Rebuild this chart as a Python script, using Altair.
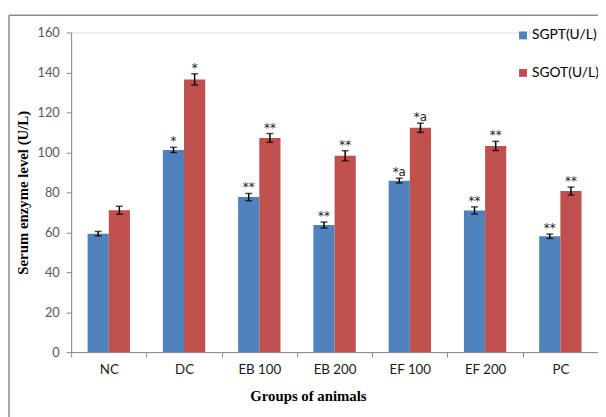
import altair as alt
import pandas as pd

groups = ["NC", "DC", "EB 100", "EB 200", "EF 100", "EF 200", "PC"]
series_names = ["SGPT(U/L)", "SGOT(U/L)"]
sgpt = [59.3, 101.2, 77.6, 63.6, 85.8, 70.9, 58.0]
sgpt_err = [1.1, 1.3, 1.8, 1.5, 1.2, 1.8, 1.1]
sgot = [71.0, 136.5, 107.2, 98.3, 112.3, 103.2, 80.6]
sgot_err = [2.0, 2.8, 2.2, 2.5, 2.3, 2.3, 2.0]
sgpt_sig = ["", "*", "**", "**", "*a", "**", "**"]
sgot_sig = ["", "*", "**", "**", "*a", "**", "**"]
colors = ["#4F81BD", "#C0504D"]

rows = []
for i, g in enumerate(groups):
    rows.append(dict(group=g, series=series_names[0], value=sgpt[i], err=sgpt_err[i], sig=sgpt_sig[i]))
    rows.append(dict(group=g, series=series_names[1], value=sgot[i], err=sgot_err[i], sig=sgot_sig[i]))
df = pd.DataFrame(rows)
df["lo"] = df["value"] - df["err"]
df["hi"] = df["value"] + df["err"]

W, H = 534, 324

x_enc = alt.X(
    "group:N", sort=groups,
    scale=alt.Scale(paddingInner=0, paddingOuter=0),
    axis=alt.Axis(
        title="Groups of animals", labelAngle=0, tickBand="extent", tickSize=5,
        labelPadding=6, domainColor="#868686", tickColor="#868686",
        labelColor="#1a1a1a", labelFont="Lato", labelFontSize=13.5,
        titleFont="Liberation Serif", titleFontWeight="bold", titleFontSize=15,
        titleColor="#000000", titleX=240, titleY=44, titleBaseline="middle",
        titleAlign="center",
    ),
)
xo_enc = alt.XOffset("series:N", sort=series_names,
                     scale=alt.Scale(paddingInner=0, paddingOuter=0.777))
y_axis = alt.Axis(
    values=[0, 20, 40, 60, 80, 100, 120, 140, 160], grid=False, tickSize=5,
    labelPadding=7, domainColor="#868686", tickColor="#868686",
    labelColor="#595959", labelFont="Lato", labelFontSize=13,
    title="Serum enzyme level (U/L)", titleFont="Liberation Serif",
    titleFontWeight="bold", titleFontSize=15, titleColor="#000000",
    titleX=-49, titleY=H / 2, titleAngle=270, titleBaseline="middle",
    titleAlign="center",
)
y_scale = alt.Scale(domain=[0, 160], nice=False)

base = alt.Chart(df)

bars = base.mark_bar().encode(
    x=x_enc, xOffset=xo_enc,
    y=alt.Y("value:Q", scale=y_scale, axis=y_axis),
    color=alt.Color(
        "series:N", sort=series_names,
        scale=alt.Scale(domain=series_names, range=colors),
        legend=alt.Legend(
            title=None, orient="none", legendX=451, legendY=-4,
            symbolType="square", symbolSize=64, symbolStrokeWidth=0,
            labelFont="Lato", labelFontSize=14, labelColor="#000000",
            labelOffset=2, rowPadding=24, labelLimit=200, padding=0,
        ),
    ),
)

err_rule = base.mark_rule(color="black", strokeWidth=1.5).encode(
    x=x_enc, xOffset=xo_enc,
    y=alt.Y("lo:Q", scale=y_scale, axis=y_axis), y2="hi:Q",
)
cap_hi = base.mark_tick(color="black", size=7, thickness=1.5).encode(
    x=x_enc, xOffset=xo_enc, y=alt.Y("hi:Q", scale=y_scale, axis=y_axis),
)
cap_lo = base.mark_tick(color="black", size=7, thickness=1.5).encode(
    x=x_enc, xOffset=xo_enc, y=alt.Y("lo:Q", scale=y_scale, axis=y_axis),
)
sig = base.mark_text(font="DejaVu Sans", fontSize=12, fill="#222222",
                     baseline="alphabetic", dy=-2).encode(
    x=x_enc, xOffset=xo_enc, y=alt.Y("hi:Q", scale=y_scale, axis=y_axis),
    text="sig:N",
)

frame_df = pd.DataFrame({"k": [0]})
frame_left = alt.Chart(frame_df).mark_rule(color="#8a8a8a", strokeWidth=1.5).encode(
    x=alt.value(-63), y=alt.value(-17.5), y2=alt.value(390),
)
frame_top = alt.Chart(frame_df).mark_rule(color="#8a8a8a", strokeWidth=1.5).encode(
    x=alt.value(-63), x2=alt.value(W + 2), y=alt.value(-17.5),
)

chart = alt.layer(bars, err_rule, cap_hi, cap_lo, sig, frame_left, frame_top).properties(
    width=W, height=H,
    autosize=alt.AutoSizeParams(type="none"),
    padding={"left": 64, "top": 22, "right": 0, "bottom": 63},
).configure_view(stroke=None).configure(background="white")

chart.save("out.html", embed_options={"renderer": "svg", "actions": False})
